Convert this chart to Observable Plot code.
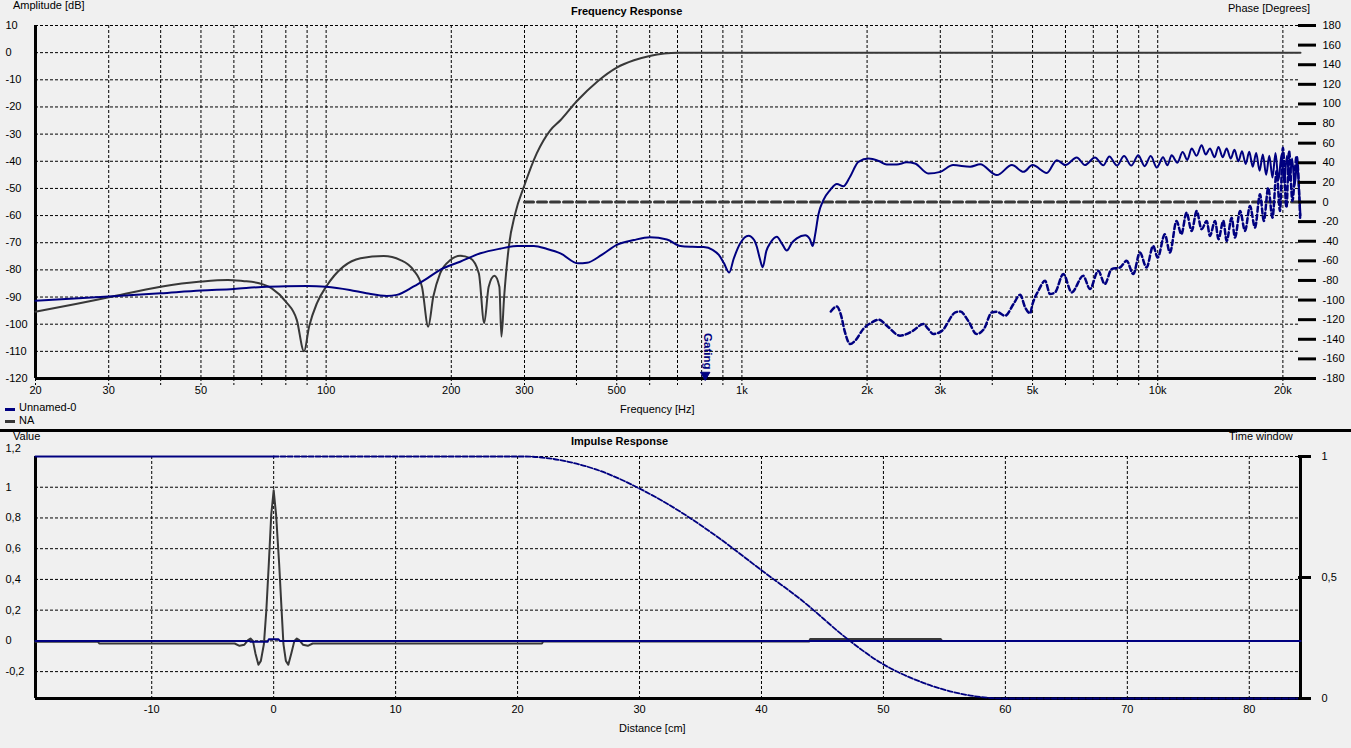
<!DOCTYPE html>
<html><head><meta charset="utf-8">
<script src="https://cdn.jsdelivr.net/npm/d3@7"></script>
<script src="https://cdn.jsdelivr.net/npm/@observablehq/plot@0.6"></script>
<style>
html,body{margin:0;padding:0;background:#f0f0f0;}
#root{position:relative;width:1351px;height:748px;overflow:hidden;font-family:"Liberation Sans",Arial,sans-serif;font-size:11px;color:#000;background:#f0f0f0;}
.lbl{position:absolute;white-space:nowrap;line-height:11px;}
.b{font-weight:bold;}
.plot{position:absolute;left:0;}
</style></head><body><div id="root"></div>
<script>
// ---------- Frequency response data ----------
const freqTicks = [20,30,40,50,60,70,80,90,100,200,300,400,500,600,700,800,900,1000,2000,3000,4000,5000,6000,7000,8000,9000,10000,20000];
const freqLabels = [20,30,50,70,100,200,300,500,700,1000,2000,3000,5000,7000,10000,20000];
const dbTicks = [10,0,-10,-20,-30,-40,-50,-60,-70,-80,-90,-100,-110,-120];
const phaseTicks = [-180,-160,-140,-120,-100,-80,-60,-40,-20,0,20,40,60,80,100,120,140,160,180];
const gatingFreq = [816];

// Unnamed-0 amplitude [Hz, dB]
const unnamedAmplitude = [[20,-91.4],[30,-89.8],[40,-88.6],[50,-87.6],[60,-87],[70,-86.3],[80,-86],[90,-85.9],[100,-86.2],[114,-87.4],[125,-88.6],[140,-89.6],[148,-89.2],[162,-86.2],[175,-83.1],[188,-80],[210,-77],[235,-73.9],[262,-72.2],[288,-71.2],[316,-71.2],[340,-72.3],[366,-73.9],[404,-77.6],[424,-77.4],[460,-74.5],[500,-70.8],[550,-69],[601,-68],[660,-68.8],[711,-71.2],[760,-71.5],[809,-71.6],[850,-72.6],[880,-74.5],[905,-77.5],[932,-81],[955,-76],[990,-70.3],[1037,-67.4],[1070,-69],[1086,-71.5],[1105,-76],[1122,-79],[1145,-73],[1169,-70.2],[1213,-67.8],[1250,-70.5],[1282,-72.9],[1320,-70],[1355,-68.4],[1420,-67.2],[1455,-68.5],[1480,-71.2],[1500,-67],[1528,-59.5],[1570,-54.3],[1630,-50.6],[1692,-48.4],[1754,-49.2],[1820,-45.7],[1906,-40.2],[2018,-39],[2133,-39.9],[2230,-41.2],[2357,-41.2],[2490,-40.4],[2607,-40.8],[2806,-44.5],[3000,-43.9],[3221,-41.4],[3540,-42],[3742,-41.1],[4103,-45.1],[4460,-41.4],[4756,-43.9],[5000,-41.4],[5410,-44.3],[5720,-39.6],[6000,-41.4],[6385,-38.6],[6685,-41.4],[7065,-38.6],[7400,-41.5],[7650,-38.2],[7980,-41.6],[8300,-38.1],[8640,-41.6],[8980,-37.8],[9300,-41.8],[9620,-38.1],[9950,-42.3],[10300,-38.5],[10550,-41.5],[10800,-37.8],[11150,-40.5],[11480,-36.6],[11780,-39.5],[12070,-35.3],[12400,-38],[12750,-34.1],[13050,-37.5],[13350,-35.3],[13700,-38.5],[14000,-34.7],[14330,-38.5],[14650,-35.3],[14980,-39],[15300,-35.8],[15630,-40],[15950,-36.3],[16280,-41],[16600,-36.5],[16930,-42],[17250,-37],[17580,-43.5],[17900,-37.5],[18230,-45],[18550,-38],[18880,-46],[19200,-37],[19520,-47],[19850,-37.5],[20150,-48],[20450,-38],[20750,-47],[21050,-39],[21350,-49],[21650,-40],[21900,-52],[22050,-60]];

// Unnamed-0 phase [Hz, degrees]
const unnamedPhase = [[1636,-111.6],[1692,-106.5],[1728,-114.3],[1770,-133],[1820,-144.8],[1872,-141.4],[1958,-129.5],[2050,-123],[2133,-120],[2230,-126.1],[2400,-136.3],[2582,-131.2],[2730,-124.4],[2806,-129.5],[2886,-134.6],[3030,-131.2],[3260,-112.6],[3352,-111.6],[3500,-121.1],[3670,-134.6],[3820,-129.5],[3990,-112.6],[4103,-112],[4294,-116],[4500,-104],[4668,-94.6],[4800,-107.5],[4932,-113.6],[5000,-104],[5164,-90.5],[5360,-80.4],[5508,-93.9],[5664,-92.2],[5930,-73.5],[6210,-92.2],[6620,-75.3],[6872,-88.8],[7194,-70.2],[7460,-83.7],[7745,-68.5],[8112,-66.8],[8420,-60],[8735,-73.5],[9060,-51.6],[9400,-66.8],[9750,-44.8],[10000,-56.7],[10400,-32.9],[10700,-51.6],[11100,-19.3],[11400,-32.9],[11730,-10.9],[12070,-29.5],[12410,-9.2],[12750,-27.8],[13120,-19.3],[13350,-34.6],[13740,-19.3],[14000,-37.9],[14380,-19.3],[14650,-39.7],[15060,-16],[15340,-36.3],[15780,-9.2],[16220,-29.5],[16670,-4.1],[17140,-26.1],[17620,7.8],[18000,-19.3],[18440,14.5],[18880,-16],[19320,31.5],[19680,-9.2],[20000,55.2],[20400,-5.8],[20700,51.9],[21080,1],[21580,46.8],[22000,-16]];

// NA amplitude [Hz, dB]
const naAmplitude = [[20,-95.4],[25,-92.6],[30,-90.1],[40,-86.2],[50,-84.3],[58,-83.7],[63,-84.1],[69,-84.9],[74,-86.8],[80,-91.7],[85,-98.4],[88.5,-110],[91,-100.9],[95,-92.3],[100,-86.2],[110,-78.8],[121,-75.7],[137.5,-74.9],[151,-76.4],[162,-80],[170,-86.2],[176,-100.9],[181,-89.9],[188,-81.3],[199,-76.4],[210,-74.8],[222,-75.7],[233,-81.3],[240,-99.6],[246,-86.2],[254,-82.2],[261,-86.2],[264,-104.6],[268,-89.9],[275,-71.5],[285,-59.2],[299,-49.4],[321,-37.1],[346,-28.6],[366,-24.9],[400,-18],[450,-10.5],[500,-5.5],[550,-2.8],[600,-1.2],[650,-0.3],[700,0],[22050,0]];

// NA phase [Hz, degrees]
const naPhase = [[300,0],[22050,0]];

// ---------- Impulse response data ----------
const distTicks = [-10,0,10,20,30,40,50,60,70,80];
const valueTicks = [1,0.8,0.6,0.4,0.2,0,-0.2];
const valueTopTick = [1.2];
const windowTicks = [0,0.5,1];

// NA impulse [cm, value]
const naImpulse = [[-19.53,-0.006],[-14.4,-0.006],[-14.3,-0.017],[-3.2,-0.017],[-2.8,-0.032],[-2.4,-0.025],[-2.1,0.005],[-1.9,0.015],[-1.7,0],[-1.5,-0.08],[-1.25,-0.155],[-1.05,-0.13],[-0.8,-0.02],[-0.6,0.2],[-0.4,0.5],[-0.2,0.82],[0,0.98],[0.2,0.82],[0.45,0.5],[0.65,0.2],[0.8,-0.02],[1.0,-0.13],[1.2,-0.155],[1.45,-0.08],[1.7,0],[1.9,0.015],[2.1,0.005],[2.4,-0.025],[2.8,-0.032],[3.2,-0.017],[22,-0.017],[22.1,-0.004],[43.9,-0.004],[44,0.012],[54.7,0.012],[54.8,0],[84.2,0]];

// Unnamed-0 impulse [cm, value]
const unnamedImpulse = [[-19.53,0],[-2,0],[-1.9,-0.006],[-0.5,-0.006],[-0.4,0.01],[0.4,0.01],[0.5,0],[84.2,0]];

// Time window [cm, window 0..1]
const windowLeft = [[-19.53,1],[0,1]];
const windowRight = [[0,1],[20.5,1],[23.5,0.985],[26.8,0.94],[30.1,0.865],[33.4,0.77],[36.6,0.66],[40,0.53],[43.2,0.41],[47.2,0.24],[49.7,0.15],[53,0.07],[56.3,0.02],[60,0],[84.2,0]];

// ---------- helpers ----------
const NAVY = "#000080", GRAY = "#383838";
const FONT = '"Liberation Sans", Arial, sans-serif';
const phaseToDb = p => -55 + p * 130 / 360;
const dbToPhase = d => Math.round((d + 55) * 360 / 130);
const fmtK = f => f >= 1000 ? (f / 1000) + "k" : String(f);
const comma = v => String(Math.round(v * 1000) / 1000).replace(".", ",");
const winToVal = w => -0.375 + w * 1.575;
const grid = {stroke: "#000", strokeOpacity: 1, strokeWidth: 1, strokeDasharray: "3,2"};
const style = {background: "transparent", fontFamily: FONT, fontSize: "11px", color: "#000", overflow: "visible"};

const root = document.getElementById("root");

const topPlot = Plot.plot({
  width: 1351, height: 430,
  marginLeft: 35, marginRight: 51, marginTop: 25, marginBottom: 52,
  style,
  x: {type: "log", domain: [20, 22050]},
  y: {domain: [-120, 10]},
  marks: [
    Plot.gridX(freqTicks.filter(f => f > 20), grid),
    Plot.gridY(dbTicks.filter(d => d > -120), grid),
    Plot.ruleX([20], {stroke: "#000", strokeWidth: 3}),
    Plot.ruleY([-120], {stroke: "#000", strokeWidth: 3}),
    Plot.line(naAmplitude, {x: d => d[0], y: d => d[1], stroke: GRAY, strokeWidth: 2, curve: "monotone-x"}),
    Plot.line(naPhase, {x: d => d[0], y: d => phaseToDb(d[1]), stroke: GRAY, strokeWidth: 3, strokeDasharray: "9,4"}),
    Plot.line(unnamedAmplitude, {x: d => d[0], y: d => d[1], stroke: NAVY, strokeWidth: 2, curve: "monotone-x"}),
    Plot.line(unnamedPhase, {x: d => d[0], y: d => phaseToDb(d[1]), stroke: NAVY, strokeWidth: 2.5, strokeDasharray: "5,3", curve: "monotone-x"}),
    Plot.axisX(freqTicks, {tickSize: 7, tickPadding: 1, strokeDasharray: "3,2", tickFormat: f => freqLabels.includes(f) ? fmtK(f) : "", label: null}),
    Plot.axisY(dbTicks, {anchor: "left", tickSize: 0, tickPadding: 0, dx: -30, textAnchor: "start", label: null, tickFormat: d => String(d)}),
    Plot.axisY(phaseTicks.map(phaseToDb), {anchor: "right", tickSize: 18, tickPadding: 7, dx: -3, textAnchor: "start", strokeWidth: 3, label: null, tickFormat: d => String(dbToPhase(d))}),
    Plot.dot(gatingFreq, {x: d => d, y: () => -120, symbol: "triangle", r: 3.5, rotate: 180, dy: -3.5, fill: NAVY, stroke: NAVY, strokeWidth: 1}),
    Plot.text(gatingFreq, {x: d => d, y: () => -120, text: () => "Gating", rotate: 90, textAnchor: "end", dy: -9, dx: 2, fill: NAVY, fontWeight: "bold", fontSize: 11.5})
  ]
});
topPlot.classList.add("plot");
topPlot.style.top = "0px";
root.appendChild(topPlot);

const bottomPlot = Plot.plot({
  width: 1351, height: 318,
  marginLeft: 35, marginRight: 51, marginTop: 26, marginBottom: 50,
  style,
  x: {domain: [-19.53, 84.2]},
  y: {domain: [-0.375, 1.2]},
  marks: [
    Plot.gridX(distTicks, grid),
    Plot.gridY(valueTopTick.concat(valueTicks), grid),
    Plot.ruleX([-19.53], {stroke: "#000", strokeWidth: 3}),
    Plot.ruleX([84.2], {stroke: "#000", strokeWidth: 3}),
    Plot.ruleY([-0.375], {stroke: "#000", strokeWidth: 3}),
    Plot.line(naImpulse, {x: d => d[0], y: d => d[1], stroke: GRAY, strokeWidth: 2}),
    Plot.line(unnamedImpulse, {x: d => d[0], y: d => d[1], stroke: NAVY, strokeWidth: 2}),
    Plot.line(windowLeft, {x: d => d[0], y: d => winToVal(d[1]), stroke: NAVY, strokeWidth: 2, strokeDasharray: "1,1"}),
    Plot.line(windowRight, {x: d => d[0], y: d => winToVal(d[1]), stroke: NAVY, strokeWidth: 1.8, strokeDasharray: "5,2", curve: "monotone-x"}),
    Plot.axisX(distTicks, {tickSize: 0, tickPadding: 6.5, tickFormat: d => String(d), label: null}),
    Plot.axisY(valueTicks, {anchor: "left", tickSize: 0, tickPadding: 0, dx: -30, textAnchor: "start", label: null, tickFormat: comma}),
    Plot.axisY(valueTopTick, {anchor: "left", tickSize: 0, tickPadding: 0, dx: -30, dy: -8, textAnchor: "start", label: null, tickFormat: comma}),
    Plot.axisY(windowTicks.map(winToVal), {anchor: "right", tickSize: 13, tickPadding: 11, dx: -3, textAnchor: "start", strokeWidth: 3, label: null, tickFormat: d => comma((d + 0.375) / 1.575)})
  ]
});
bottomPlot.classList.add("plot");
bottomPlot.style.top = "430px";
root.appendChild(bottomPlot);

// ---------- texts ----------
function addLabel(text, left, top, cls) {
  const el = document.createElement("div");
  el.className = "lbl" + (cls ? " " + cls : "");
  el.textContent = text;
  el.style.left = left + "px";
  el.style.top = top + "px";
  root.appendChild(el);
  return el;
}
function addBox(left, top, w, h, color) {
  const el = document.createElement("div");
  el.style.position = "absolute";
  el.style.left = left + "px"; el.style.top = top + "px";
  el.style.width = w + "px"; el.style.height = h + "px";
  el.style.background = color;
  root.appendChild(el);
}
addLabel("Amplitude [dB]", 13, 0);
addLabel("Frequency Response", 571, 6, "b");
addLabel("Phase [Degrees]", 1228, 3);
addLabel("Frequency [Hz]", 620, 404);
addBox(5, 407.5, 10, 3, NAVY);
addLabel("Unnamed-0", 19, 402);
addBox(5, 419.5, 10, 3, GRAY);
addLabel("NA", 19, 415);
addBox(0, 429, 1351, 3, "#000");
addLabel("Value", 13, 430.5);
addLabel("Impulse Response", 571, 436, "b");
addLabel("Time window", 1229, 431);
addLabel("Distance [cm]", 619, 723);
</script></body></html>
